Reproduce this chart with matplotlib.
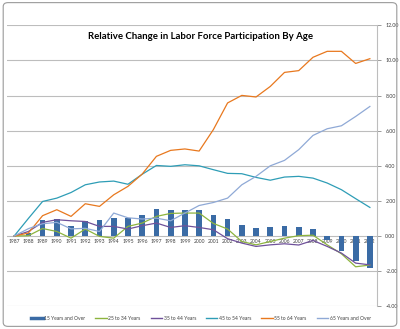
import matplotlib
matplotlib.use("Agg")
import matplotlib.pyplot as plt
from matplotlib.patches import FancyBboxPatch
from matplotlib.lines import Line2D
from matplotlib.ticker import FormatStrFormatter

years = [str(y) for y in range(1987, 2013)]

age_15_over = [0.0, 0.15, 0.91, 0.99, 0.59, 0.85, 0.89, 1.02, 1.04, 1.18, 1.56, 1.48,
               1.48, 1.48, 1.21, 0.99, 0.65, 0.45, 0.49, 0.59, 0.49, 0.42, -0.20, -0.83,
               -1.44, -1.84]
age_25_34 = [0.0, 0.02, 0.43, 0.26, -0.12, 0.40, -0.02, -0.12, 0.55, 0.74, 1.12, 1.29,
             1.31, 1.31, 0.72, 0.40, -0.31, -0.50, -0.31, -0.12, 0.02, 0.05, -0.50, -1.01,
             -1.75, -1.65]
age_35_44 = [0.0, 0.26, 0.78, 0.93, 0.87, 0.83, 0.55, 0.55, 0.40, 0.59, 0.74, 0.49,
             0.59, 0.49, 0.36, -0.15, -0.40, -0.59, -0.50, -0.44, -0.51, -0.25, -0.59, -0.97,
             -1.54, -1.64]
age_45_54 = [0.0, 1.0, 1.97, 2.16, 2.48, 2.92, 3.08, 3.13, 2.95, 3.52, 4.02, 3.97,
             4.06, 4.00, 3.78, 3.57, 3.55, 3.34, 3.18, 3.36, 3.40, 3.30, 3.02, 2.64,
             2.13, 1.63]
age_55_64 = [0.0, 0.17, 1.16, 1.50, 1.12, 1.84, 1.69, 2.35, 2.83, 3.53, 4.54, 4.88,
             4.96, 4.84, 6.06, 7.58, 8.01, 7.92, 8.52, 9.32, 9.42, 10.18, 10.52, 10.52,
             9.83, 10.10]
age_65_over = [0.0, 0.42, 0.70, 0.78, 0.41, 0.44, 0.26, 1.31, 1.04, 0.97, 1.02, 0.87,
               1.31, 1.74, 1.91, 2.16, 2.92, 3.40, 4.00, 4.31, 4.92, 5.73, 6.11, 6.28,
               6.81, 7.38]

labels = ["15 Years and Over", "25 to 34 Years", "35 to 44 Years",
          "45 to 54 Years", "55 to 64 Years", "65 Years and Over"]
bar_color = "#3A6BA5"
line_series = [age_25_34, age_35_44, age_45_54, age_55_64, age_65_over]
line_colors = ["#8DB43E", "#6F519A", "#2E9DB6", "#E8781E", "#8FA9D6"]

plt.rcParams["font.family"] = ["Lato", "DejaVu Sans"]

fig = plt.figure(figsize=(4.0, 3.29), dpi=100)
fig.patch.set_facecolor("white")

# chart-area frame
frame = FancyBboxPatch((0.008, 0.008), 0.984, 0.984,
                       boxstyle="round,pad=0,rounding_size=0.012",
                       transform=fig.transFigure, facecolor="none",
                       edgecolor="#9A9A9A", linewidth=0.8)
fig.patches.append(frame)

ax = fig.add_axes([0.0175, 0.069, 0.925, 0.854])
x = list(range(len(years)))

ax.bar(x, age_15_over, width=0.4, color=bar_color, zorder=3)
for vals, c in zip(line_series, line_colors):
    ax.plot(x, vals, color=c, linewidth=0.9, zorder=4)

ax.set_xlim(-0.5, len(years) - 0.5)
ax.set_ylim(-4, 12)
ax.set_yticks(range(-4, 13, 2))
ax.yaxis.set_major_formatter(FormatStrFormatter("%.2f"))
ax.yaxis.tick_right()
ax.tick_params(axis="y", labelsize=3.8, colors="#8C8C8C", labelcolor="#404040",
               length=3, width=0.6, pad=3, direction="out")
ax.grid(axis="y", color="#BDBDBD", linewidth=0.8, zorder=0)
ax.set_axisbelow(True)

for side in ["top", "left", "bottom"]:
    ax.spines[side].set_visible(False)
ax.spines["right"].set_color("#BDBDBD")
ax.spines["right"].set_linewidth(0.8)

# category labels sit just under the zero line
ax.set_xticks([])
for i, yr in enumerate(years):
    ax.text(i, -0.15, yr, ha="center", va="top", fontsize=3.6, color="#404040",
            zorder=2)

fig.text(0.5, 0.89, "Relative Change in Labor Force Participation By Age",
         ha="center", va="center", fontsize=6.9, fontweight="bold", color="#000000")

handles = [Line2D([0], [0], color=bar_color, linewidth=2.5)]
handles += [Line2D([0], [0], color=c, linewidth=1.0) for c in line_colors]
fig.legend(handles, labels, loc="center", bbox_to_anchor=(0.5025, 0.033),
           ncol=6, frameon=False, fontsize=3.6, handlelength=2.3,
           handletextpad=0.3, columnspacing=2.0, labelcolor="#404040")

fig.savefig("out.png", dpi=100)
